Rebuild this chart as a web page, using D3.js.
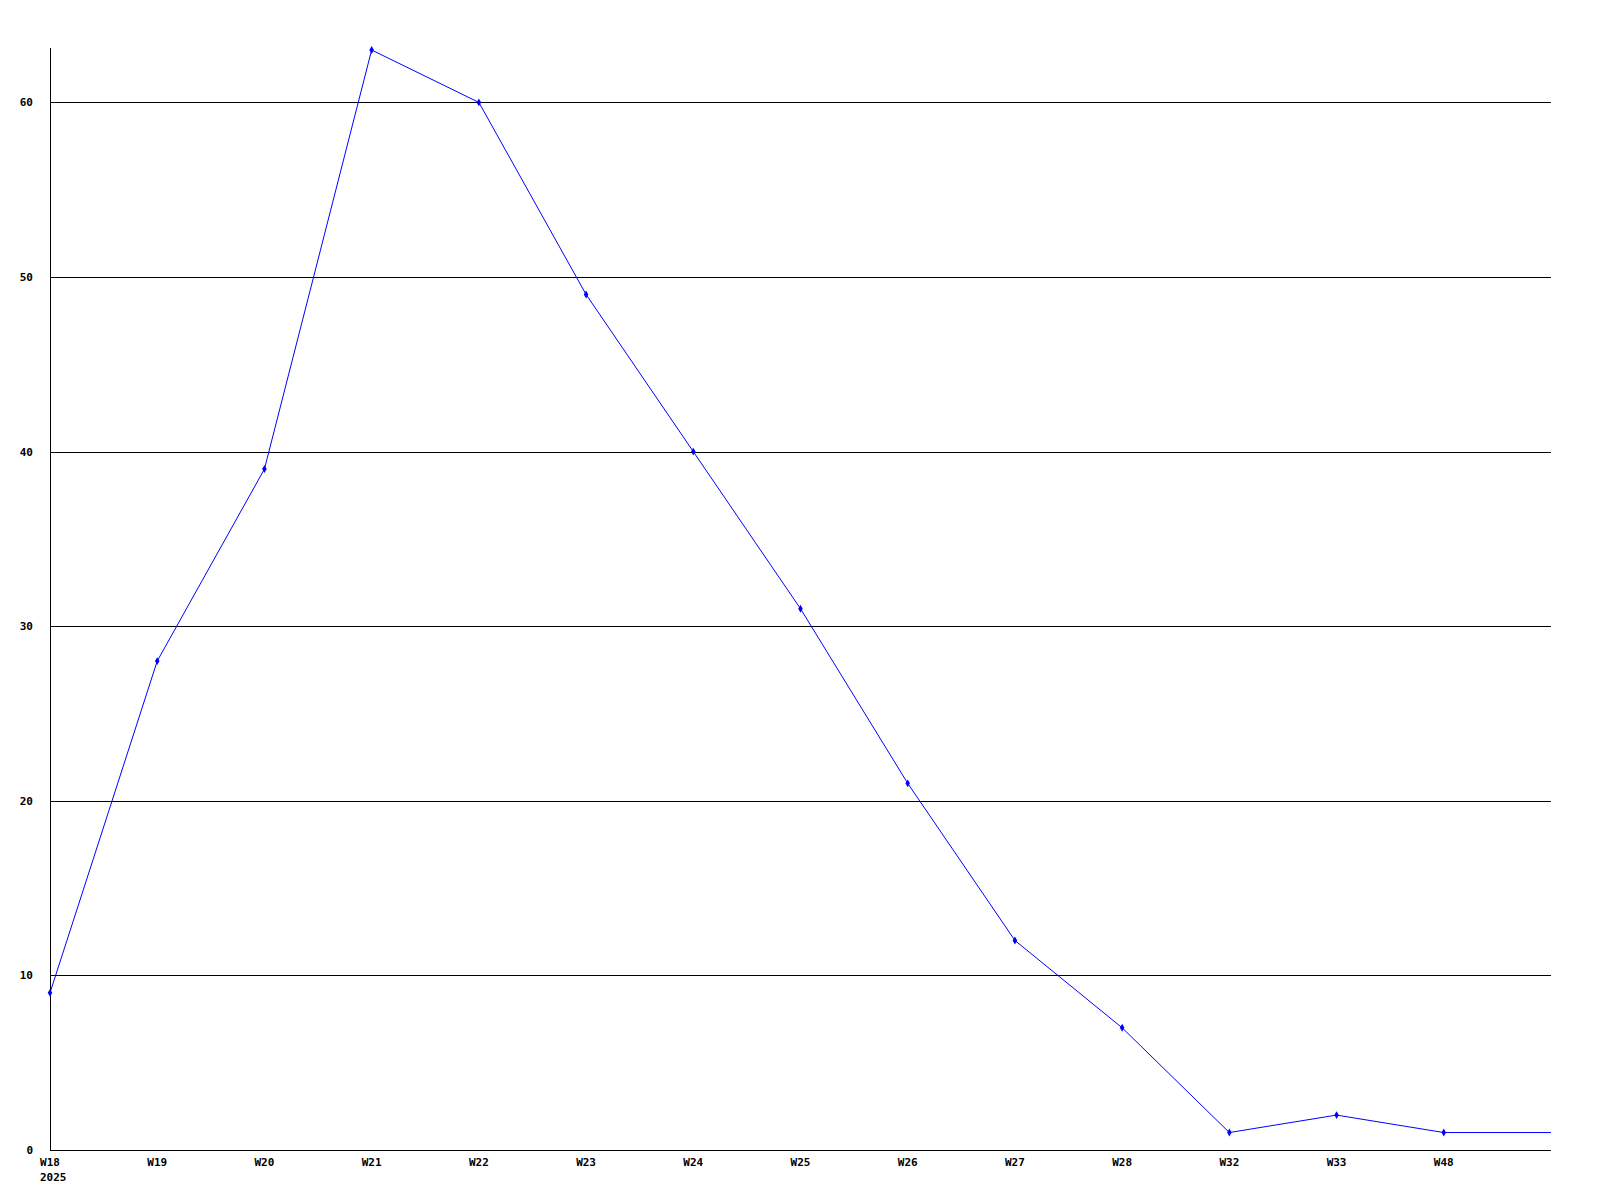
<!DOCTYPE html>
<html>
<head>
<meta charset="utf-8">
<script src="https://cdn.jsdelivr.net/npm/d3@7"></script>
<style>
  body { margin: 0; background: #fff; }
  svg text { font-family: "DejaVu Sans Mono", monospace; font-weight: bold; font-size: 11px; fill: #000; }
</style>
</head>
<body>
<svg id="chart"></svg>
<script>
let weeks = ["W18", "W19", "W20", "W21", "W22", "W23", "W24", "W25", "W26", "W27", "W28", "W32", "W33", "W48"]
let counts = [9, 28, 39, 63, 60, 49, 40, 31, 21, 12, 7, 1, 2, 1]
let yTicks = [0, 10, 20, 30, 40, 50, 60]
let yearLabel = "2025"

let width = 1600
let height = 1200
let padLeft = 50
let padRight = 1551
let padTop = 50
let padBottom = 1150

let svg = d3.select("#chart")
            .attr("width", width)
            .attr("height", height)

// one extra slot on the right where the last value carries on
let xScale = d3.scaleLinear()
               .domain([0, weeks.length])
               .range([padLeft, padRight])

let yScale = d3.scaleLinear()
               .domain([0, d3.max(counts)])
               .range([padBottom, padTop])

// gridlines
svg.append("g")
   .selectAll("line")
   .data(yTicks.filter(d => d > 0))
   .enter()
   .append("line")
   .attr("x1", padLeft)
   .attr("x2", padRight)
   .attr("y1", d => Math.round(yScale(d)) + 0.5)
   .attr("y2", d => Math.round(yScale(d)) + 0.5)
   .attr("stroke", "#000")
   .attr("stroke-width", 1)

// axes
svg.append("line")
   .attr("x1", padLeft + 0.5).attr("x2", padLeft + 0.5)
   .attr("y1", padTop - 2).attr("y2", padBottom)
   .attr("stroke", "#000")
svg.append("line")
   .attr("x1", padLeft).attr("x2", padRight)
   .attr("y1", padBottom + 0.5).attr("y2", padBottom + 0.5)
   .attr("stroke", "#000")

// y labels
svg.append("g")
   .selectAll("text")
   .data(yTicks)
   .enter()
   .append("text")
   .attr("x", 33)
   .attr("y", d => yScale(d) + 4)
   .attr("text-anchor", "end")
   .text(d => d)

// x labels
svg.append("g")
   .selectAll("text")
   .data(weeks)
   .enter()
   .append("text")
   .attr("x", (d, i) => xScale(i))
   .attr("y", 1166)
   .attr("text-anchor", "middle")
   .text(d => d)

svg.append("text")
   .attr("x", xScale(0) - 10)
   .attr("y", 1181)
   .text(yearLabel)

// line, continuing flat to the right edge
let linePoints = counts.map((d, i) => [i, d])
linePoints.push([weeks.length, counts[counts.length - 1]])

let line = d3.line()
             .x(d => xScale(d[0]))
             .y(d => yScale(d[1]))

svg.append("path")
   .datum(linePoints)
   .attr("d", line)
   .attr("fill", "none")
   .attr("stroke", "#0000ff")
   .attr("stroke-width", 1)

svg.append("g")
   .selectAll("path")
   .data(counts)
   .enter()
   .append("path")
   .attr("d", d3.symbol().type(d3.symbolDiamond).size(18))
   .attr("transform", (d, i) => "translate(" + xScale(i) + "," + yScale(d) + ")")
   .attr("fill", "#0000ff")
</script>
</body>
</html>
